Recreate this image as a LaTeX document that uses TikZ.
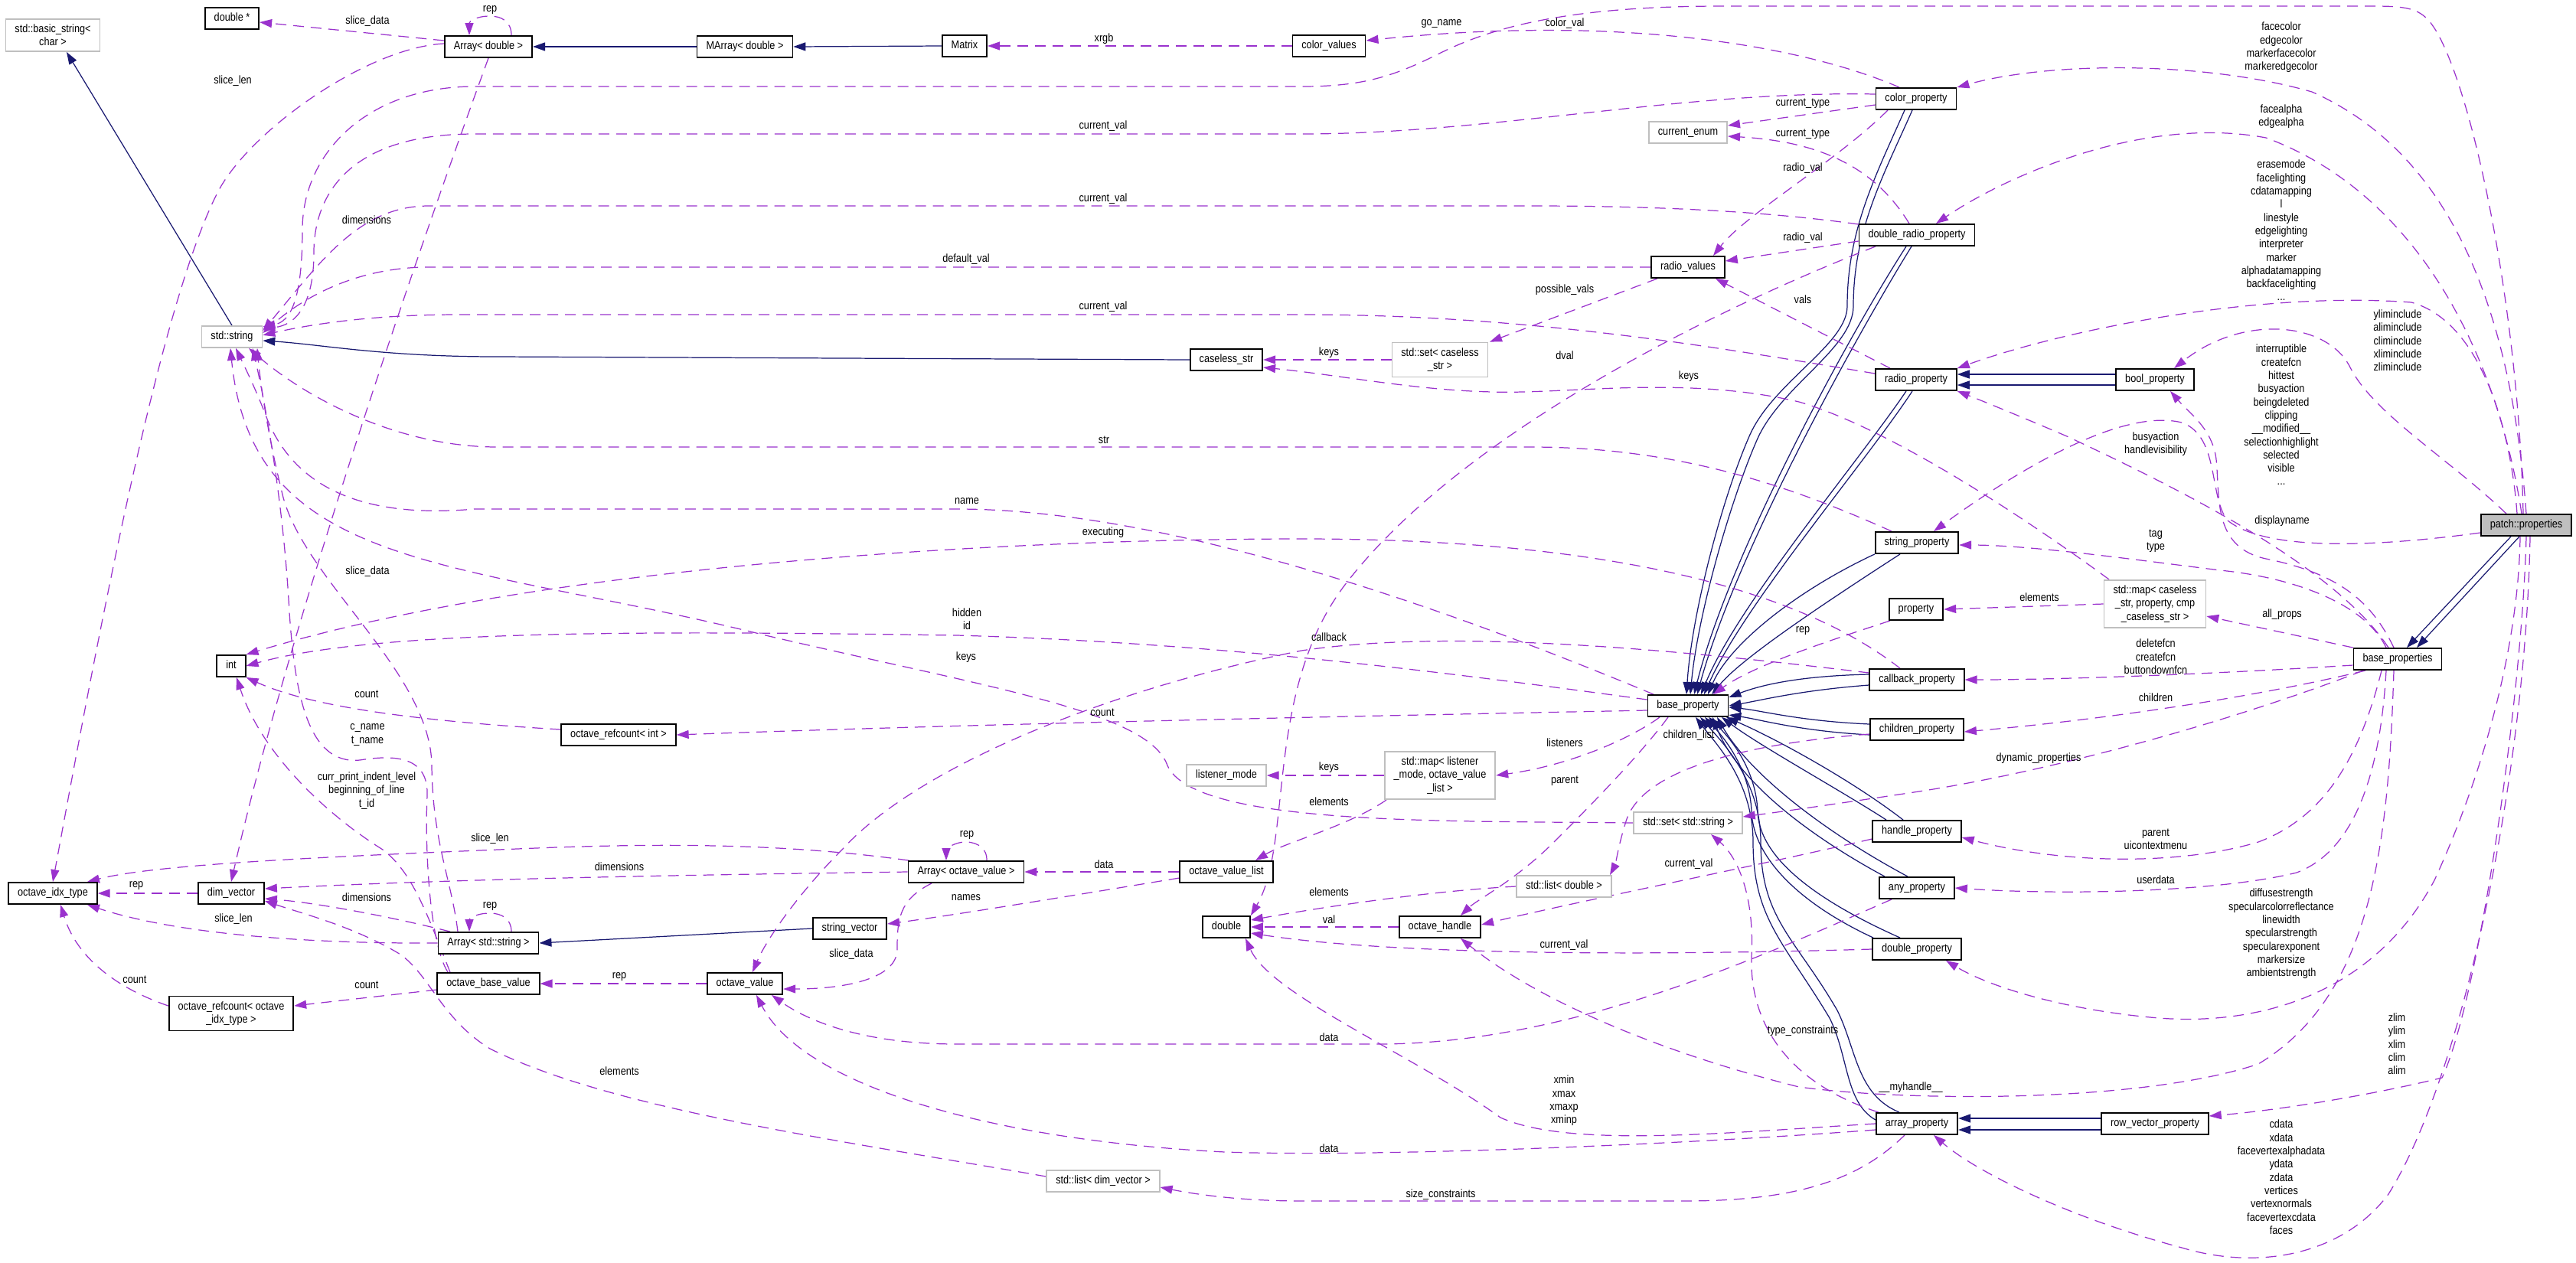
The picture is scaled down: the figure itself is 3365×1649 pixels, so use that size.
\documentclass[tikz,border=0pt]{standalone}
\usepackage{fontspec}
\setmainfont{Liberation Sans}[FakeStretch=0.86]
\usetikzlibrary{arrows.meta}
\definecolor{inhblue}{RGB}{25,25,112}
\definecolor{usepurple}{RGB}{154,50,205}
\definecolor{extgray}{RGB}{191,191,191}
\newcommand{\dfont}{\fontsize{4.2}{4.93}\selectfont}
\pgfdeclarelayer{bg}
\pgfsetlayers{bg,main}
\begin{document}
\begin{tikzpicture}[x=0.1mm,y=-0.1mm,
  box/.style={draw=black,fill=white,line width=0.5pt,font=\dfont,align=center,
    inner xsep=3.4pt,inner ysep=2pt,minimum height=2.8mm},
  one/.style={box,text height=3.1pt,text depth=0.9pt},
  ext/.style={draw=extgray},
  lbl/.style={font=\dfont,align=center,inner sep=0pt},
  inh/.style={draw=inhblue,line width=0.35pt,-{Triangle[length=1.6mm,width=1.1mm]}},
  use/.style={draw=usepurple,line width=0.35pt,dash pattern=on 1.4mm off 0.9mm,
    -{Triangle[length=1.6mm,width=1.1mm]}}]
  \useasboundingbox (0,0) rectangle (3365,1649);
  % classes
  \node[box,ext] (basicstr) at (69,46) {std::basic\_string<\\char >};
  \node[one] (dblptr) at (303,24) {double *};
  \node[one] (arrdbl) at (638,61) {Array< double >};
  \node[one,ext] (stdstr) at (303,440) {std::string};
  \node[one] (marray) at (973,61) {MArray< double >};
  \node[one] (matrix) at (1260,60) {Matrix};
  \node[one] (colvals) at (1736,60) {color\_values};
  \node[one] (caseless) at (1602,470) {caseless\_str};
  \node[one] (colprop) at (2503,129) {color\_property};
  \node[one,ext] (curenum) at (2205,173) {current\_enum};
  \node[one] (dblradio) at (2504,307) {double\_radio\_property};
  \node[one] (radiovals) at (2205,349) {radio\_values};
  \node[box,ext] (setcaseless) at (1881,470) {std::set< caseless\\\_str >};
  \node[one] (radioprop) at (2503,496) {radio\_property};
  \node[one] (boolprop) at (2815,496) {bool\_property};
  \node[one] (strprop) at (2504,709) {string\_property};
  \node[one] (property) at (2503,796) {property};
  \node[one] (cbprop) at (2504,888) {callback\_property};
  \node[one] (baseprop) at (2205,922) {base\_property};
  \node[one] (childprop) at (2504,953) {children\_property};
  \node[box,ext] (maplistener) at (1881,1013) {std::map< listener\\\_mode, octave\_value\\\_list >};
  \node[one,ext] (setstr) at (2205,1075) {std::set< std::string >};
  \node[one] (handleprop) at (2504,1086) {handle\_property};
  \node[one,fill=extgray] (patch) at (3300,686) {patch::properties};
  \node[box,ext] (mapcaseless) at (2815,789) {std::map< caseless\\\_str, property, cmp\\\_caseless\_str >};
  \node[one] (baseprops) at (3132,861) {base\_properties};
  \node[one] (int) at (302,870) {int};
  \node[one] (refint) at (808,960) {octave\_refcount< int >};
  \node[one,ext] (listmode) at (1602,1013) {listener\_mode};
  \node[one] (idxtype) at (69,1167) {octave\_idx\_type};
  \node[one] (dimvec) at (302,1167) {dim\_vector};
  \node[one] (arrstr) at (638,1232) {Array< std::string >};
  \node[one] (basevalue) at (638,1285) {octave\_base\_value};
  \node[box] (refidx) at (302,1324) {octave\_refcount< octave\\\_idx\_type >};
  \node[one] (arrov) at (1262,1139) {Array< octave\_value >};
  \node[one] (ovlist) at (1602,1139) {octave\_value\_list};
  \node[one] (strvec) at (1110,1213) {string\_vector};
  \node[one] (double) at (1602,1211) {double};
  \node[one] (octval) at (973,1285) {octave\_value};
  \node[one,ext] (listdim) at (1441,1543) {std::list< dim\_vector >};
  \node[one,ext] (listdbl) at (2043,1158) {std::list< double >};
  \node[one] (ohandle) at (1881,1211) {octave\_handle};
  \node[one] (anyprop) at (2504,1160) {any\_property};
  \node[one] (dblprop) at (2504,1240) {double\_property};
  \node[one] (arrprop) at (2504,1468) {array\_property};
  \node[one] (rowvec) at (2815,1468) {row\_vector\_property};
  % member labels
  \node[lbl] (lrep1) at (640,13) {rep};
  \node[lbl] (lslicedata1) at (480,28) {slice\_data};
  \node[lbl] (lslicelen1) at (304,106) {slice\_len};
  \node[lbl] (ldims1) at (479,287) {dimensions};
  \node[lbl] (lxrgb) at (1442,51) {xrgb};
  \node[lbl] (lgoname) at (1883,31) {go\_name};
  \node[lbl] (lcolorval) at (2044,31) {color\_val};
  \node[lbl] (lcurval1) at (1441,165) {current\_val};
  \node[lbl] (lcurtype1) at (2355,135) {current\_type};
  \node[lbl] (lcurtype2) at (2355,175) {current\_type};
  \node[lbl] (lradioval1) at (2355,220) {radio\_val};
  \node[lbl] (lcurval2) at (1441,260) {current\_val};
  \node[lbl] (lradioval2) at (2355,311) {radio\_val};
  \node[lbl] (ldefval) at (1262,339) {default\_val};
  \node[lbl] (lposvals) at (2044,379) {possible\_vals};
  \node[lbl] (lvals) at (2355,391) {vals};
  \node[lbl] (lcurval3) at (1441,401) {current\_val};
  \node[lbl] (lkeys1) at (1736,461) {keys};
  \node[lbl] (ldval) at (2044,464) {dval};
  \node[lbl] (lkeys2) at (2206,492) {keys};
  \node[lbl] (lfacecolor) at (2980,62) {facecolor\\edgecolor\\markerfacecolor\\markeredgecolor};
  \node[lbl] (lfacealpha) at (2980,152) {facealpha\\edgealpha};
  \node[lbl] (lerasemode) at (2980,301) {erasemode\\facelighting\\cdatamapping\\l\\linestyle\\edgelighting\\interpreter\\marker\\alphadatamapping\\backfacelighting\\...};
  \node[lbl] (lylim) at (3132,445) {yliminclude\\aliminclude\\climinclude\\xliminclude\\zliminclude};
  \node[lbl] (linterrupt) at (2980,542) {interruptible\\createfcn\\hittest\\busyaction\\beingdeleted\\clipping\\\_\_modified\_\_\\selectionhighlight\\selected\\visible\\...};
  \node[lbl] (lbusy) at (2816,580) {busyaction\\handlevisibility};
  \node[lbl] (ldispname) at (2981,681) {displayname};
  \node[lbl] (ltag) at (2816,707) {tag\\type};
  \node[lbl] (lelems1) at (2664,780) {elements};
  \node[lbl] (lallprops) at (2981,803) {all\_props};
  \node[lbl] (ldelfcn) at (2816,858) {deletefcn\\createfcn\\buttondownfcn};
  \node[lbl] (lchildren) at (2816,911) {children};
  \node[lbl] (ldynprops) at (2663,991) {dynamic\_properties};
  \node[lbl] (lparent1) at (2816,1096) {parent\\uicontextmenu};
  \node[lbl] (luserdata) at (2816,1149) {userdata};
  \node[lbl] (ldiffuse) at (2980,1220) {diffusestrength\\specularcolorreflectance\\linewidth\\specularstrength\\specularexponent\\markersize\\ambientstrength};
  \node[lbl] (lzlim) at (3131,1364) {zlim\\ylim\\xlim\\clim\\alim};
  \node[lbl] (lcdata) at (2980,1538) {cdata\\xdata\\facevertexalphadata\\ydata\\zdata\\vertices\\vertexnormals\\facevertexcdata\\faces};
  \node[lbl] (lmyhandle) at (2496,1421) {\_\_myhandle\_\_};
  \node[lbl] (lstr) at (1442,575) {str};
  \node[lbl] (lname) at (1263,655) {name};
  \node[lbl] (lexec) at (1441,696) {executing};
  \node[lbl] (lslicedata2) at (480,747) {slice\_data};
  \node[lbl] (lhidden) at (1263,809) {hidden\\id};
  \node[lbl] (lrep2) at (2355,824) {rep};
  \node[lbl] (lcallback) at (1736,832) {callback};
  \node[lbl] (lkeys3) at (1262,859) {keys};
  \node[lbl] (lcount1) at (479,907) {count};
  \node[lbl] (lcount2) at (1440,931) {count};
  \node[lbl] (lcname) at (480,960) {c\_name\\t\_name};
  \node[lbl] (lchildlist) at (2206,961) {children\_list};
  \node[lbl] (llisteners) at (2044,970) {listeners};
  \node[lbl] (lkeys4) at (1736,1003) {keys};
  \node[lbl] (lparent2) at (2044,1020) {parent};
  \node[lbl] (lcurprint) at (479,1033) {curr\_print\_indent\_level\\beginning\_of\_line\\t\_id};
  \node[lbl] (lelems2) at (1736,1047) {elements};
  \node[lbl] (lrep3) at (1263,1091) {rep};
  \node[lbl] (lslicelen2) at (640,1096) {slice\_len};
  \node[lbl] (ldata1) at (1442,1129) {data};
  \node[lbl] (lcurval4) at (2206,1129) {current\_val};
  \node[lbl] (ldims2) at (809,1132) {dimensions};
  \node[lbl] (lrep4) at (178,1157) {rep};
  \node[lbl] (lelems3) at (1736,1165) {elements};
  \node[lbl] (ldims3) at (479,1172) {dimensions};
  \node[lbl] (lnames) at (1262,1173) {names};
  \node[lbl] (lrep5) at (640,1184) {rep};
  \node[lbl] (lslicelen3) at (305,1201) {slice\_len};
  \node[lbl] (lval) at (1736,1201) {val};
  \node[lbl] (lcurval5) at (2043,1235) {current\_val};
  \node[lbl] (lslicedata3) at (1112,1247) {slice\_data};
  \node[lbl] (lrep6) at (809,1276) {rep};
  \node[lbl] (lcount3) at (176,1280) {count};
  \node[lbl] (lcount4) at (479,1287) {count};
  \node[lbl] (ltypecons) at (2355,1347) {type\_constraints};
  \node[lbl] (ldata2) at (1736,1355) {data};
  \node[lbl] (lelems4) at (809,1399) {elements};
  \node[lbl] (lxmin) at (2043,1438) {xmin\\xmax\\xmaxp\\xminp};
  \node[lbl] (ldata3) at (1736,1500) {data};
  \node[lbl] (lsizecons) at (1882,1561) {size\_constraints};
  \begin{pgfonlayer}{bg}
  % inheritance
  \draw[inh] (stdstr.north) -- ([shift={(18,0)}]basicstr.south);
  \draw[inh] (marray.west) -- (arrdbl.east);
  \draw[inh] (matrix.west) -- (marray.east);
  \draw[inh] (caseless.west) -- (650,466) .. controls (500,466) and (420,450) .. ([shift={(0,5)}]stdstr.east);
  \draw[inh] (strvec.west) -- (arrstr.east);
  \draw[inh] ([shift={(-20,0)}]patch.south) -- ([shift={(12,0)}]baseprops.north);
  \draw[inh] ([shift={(-9,0)}]patch.south) -- ([shift={(25,0)}]baseprops.north);
  \draw[inh] ([shift={(0,-7)}]boolprop.west) -- ([shift={(0,-7)}]radioprop.east);
  \draw[inh] ([shift={(0,7)}]boolprop.west) -- ([shift={(0,7)}]radioprop.east);
  \draw[inh] ([shift={(0,-7)}]rowvec.west) -- ([shift={(0,-7)}]arrprop.east);
  \draw[inh] ([shift={(0,8)}]rowvec.west) -- ([shift={(0,8)}]arrprop.east);
  \draw[inh] ([shift={(-15,0)}]colprop.south) .. controls (2450,230) and (2413,300) .. (2413,400)
    .. controls (2413,450) and (2315,500) .. (2285,570) .. controls (2250,650) and (2210,800) .. ([shift={(-2,0)}]baseprop.north);
  \draw[inh] ([shift={(-5,0)}]colprop.south) .. controls (2460,230) and (2421,300) .. (2421,400)
    .. controls (2421,455) and (2325,505) .. (2295,575) .. controls (2262,650) and (2218,800) .. ([shift={(3,0)}]baseprop.north);
  \draw[inh] ([shift={(-14,0)}]dblradio.south) .. controls (2420,430) and (2260,720) .. ([shift={(8,0)}]baseprop.north);
  \draw[inh] ([shift={(-7,0)}]dblradio.south) .. controls (2430,430) and (2268,720) .. ([shift={(12,0)}]baseprop.north);
  \draw[inh] ([shift={(-13,0)}]radioprop.south) .. controls (2430,600) and (2270,790) .. ([shift={(17,0)}]baseprop.north);
  \draw[inh] ([shift={(-5,0)}]radioprop.south) .. controls (2440,600) and (2278,790) .. ([shift={(21,0)}]baseprop.north);
  \draw[inh] (strprop.south west) .. controls (2350,770) and (2260,840) .. ([shift={(26,0)}]baseprop.north);
  \draw[inh] ([shift={(-22,0)}]strprop.south) .. controls (2380,790) and (2275,860) .. ([shift={(31,0)}]baseprop.north);
  \draw[inh] ([shift={(0,-7)}]cbprop.west) .. controls (2350,883) and (2300,895) .. ([shift={(0,-11)}]baseprop.east);
  \draw[inh] ([shift={(0,7)}]cbprop.west) .. controls (2350,902) and (2300,915) .. (baseprop.east);
  \draw[inh] ([shift={(0,-7)}]childprop.west) .. controls (2350,942) and (2300,928) .. ([shift={(0,2)}]baseprop.east);
  \draw[inh] ([shift={(0,7)}]childprop.west) .. controls (2350,955) and (2300,940) .. ([shift={(0,12)}]baseprop.east);
  \draw[inh] ([shift={(-40,0)}]handleprop.north) .. controls (2400,1030) and (2300,975) .. ([shift={(44,0)}]baseprop.south);
  \draw[inh] ([shift={(-18,0)}]handleprop.north) .. controls (2420,1020) and (2320,965) .. ([shift={(50,0)}]baseprop.south);
  \draw[inh] ([shift={(-42,0)}]anyprop.north) .. controls (2360,1090) and (2270,1020) .. ([shift={(32,0)}]baseprop.south);
  \draw[inh] ([shift={(-12,0)}]anyprop.north) .. controls (2380,1085) and (2285,1010) .. ([shift={(38,0)}]baseprop.south);
  \draw[inh] ([shift={(-57,0)}]dblprop.north) .. controls (2350,1180) and (2290,1120) .. (2288,1060)
    .. controls (2286,1010) and (2258,970) .. ([shift={(22,0)}]baseprop.south);
  \draw[inh] ([shift={(-22,0)}]dblprop.north) .. controls (2370,1175) and (2298,1120) .. (2296,1060)
    .. controls (2294,1010) and (2266,970) .. ([shift={(27,0)}]baseprop.south);
  \draw[inh] ([shift={(0,-5)}]arrprop.west) .. controls (2410,1440) and (2415,1380) .. (2390,1330)
    .. controls (2330,1230) and (2290,1200) .. (2290,1100) .. controls (2290,1020) and (2240,970) .. ([shift={(10,0)}]baseprop.south);
  \draw[inh] ([shift={(-23,0)}]arrprop.north) .. controls (2425,1430) and (2425,1370) .. (2400,1320)
    .. controls (2345,1225) and (2300,1200) .. (2300,1100) .. controls (2300,1020) and (2250,970) .. ([shift={(16,0)}]baseprop.south);
  % members
  \draw[use] ([shift={(30,0)}]arrdbl.north) .. controls (668,28) and (655,21) .. (640,21) .. controls (622,21) and (613,28) .. ([shift={(-25,0)}]arrdbl.north);
  \draw[use] ([shift={(0,-8)}]arrdbl.west) -- ([shift={(0,5)}]dblptr.east);
  \draw[use] ([shift={(0,-4)}]arrdbl.west) .. controls (480,62) and (327,170) .. (285,250) .. controls (207,400) and (124,853) .. (idxtype.north);
  \draw[use] (arrdbl.south) .. controls (520,400) and (370,850) .. (dimvec.north);
  \draw[use] (colvals.west) -- (matrix.east);
  \draw[use] ([shift={(-22,0)}]colprop.north) .. controls (2380,70) and (2150,15) .. ([shift={(0,-7)}]colvals.east);
  \draw[use] ([shift={(-4,0)}]patch.north) .. controls (3290,400) and (3230,120) .. (3182,40) .. controls (3165,12) and (3150,8) .. (3100,8)
    -- (2250,8) .. controls (2050,8) and (1950,35) .. (1880,70) .. controls (1820,100) and (1780,113) .. (1700,113)
    -- (620,113) .. controls (480,113) and (395,200) .. (395,300) .. controls (395,390) and (380,420) .. (stdstr.18);
  \draw[use] ([shift={(0,-6)}]colprop.west) .. controls (2200,118) and (1950,175) .. (1700,175)
    -- (620,175) .. controls (450,175) and (410,260) .. (410,330) .. controls (410,400) and (385,425) .. (stdstr.15);
  \draw[use] ([shift={(0,8)}]colprop.west) -- ([shift={(0,-9)}]curenum.east);
  \draw[use] ([shift={(-10,0)}]dblradio.north) .. controls (2450,220) and (2380,185) .. ([shift={(0,5)}]curenum.east);
  \draw[use] ([shift={(-37,0)}]colprop.south) .. controls (2400,210) and (2280,280) .. ([shift={(33,0)}]radiovals.north);
  \draw[use] ([shift={(0,8)}]dblradio.west) -- ([shift={(0,-8)}]radiovals.east);
  \draw[use] ([shift={(0,-14)}]dblradio.west) .. controls (2300,275) and (2150,269) .. (2000,269)
    -- (560,269) .. controls (470,269) and (420,340) .. (stdstr.11);
  \draw[use] (radiovals.west) -- (560,349) .. controls (470,349) and (400,385) .. (stdstr.7);
  \draw[use] ([shift={(0,-8)}]radioprop.west) .. controls (2250,455) and (2000,411) .. (1700,411)
    -- (600,411) .. controls (480,411) and (400,425) .. (stdstr.3);
  \draw[use] ([shift={(-40,0)}]radiovals.south) -- ([shift={(65,0)}]setcaseless.north);
  \draw[use] ([shift={(-34,0)}]radioprop.north) -- ([shift={(36,0)}]radiovals.south);
  \draw[use] (setcaseless.west) -- (caseless.east);
  \draw[use] ([shift={(-60,0)}]mapcaseless.north) .. controls (2650,680) and (2470,560) .. (2350,525)
    .. controls (2200,490) and (2050,515) .. (1950,512) .. controls (1850,510) and (1750,490) .. ([shift={(0,10)}]caseless.east);
  \draw[use] ([shift={(-54,0)}]dblradio.south) .. controls (2200,420) and (1900,580) .. (1760,760)
    .. controls (1650,900) and (1690,1100) .. (double.north east);
  \draw[use] ([shift={(-33,0)}]strprop.north) .. controls (2350,640) and (2200,584) .. (2000,584)
    -- (650,584) .. controls (520,584) and (400,520) .. ([shift={(22,0)}]stdstr.south);
  \draw[use] ([shift={(-45,0)}]baseprop.north) .. controls (1950,820) and (1550,665) .. (1250,665)
    -- (620,665) .. controls (450,680) and (380,620) .. (350,550) .. controls (335,510) and (320,480) .. ([shift={(5,0)}]stdstr.south);
  \draw[use] ([shift={(-22,0)}]cbprop.north) .. controls (2350,770) and (2100,704) .. (1700,704)
    .. controls (1300,704) and (700,740) .. (int.north east);
  \draw[use] ([shift={(0,-8)}]baseprop.west) .. controls (1900,880) and (1600,840) .. (1250,830)
    .. controls (900,825) and (500,820) .. (int.east);
  \draw[use] (setstr.west) .. controls (1900,1072) and (1560,1080) .. (1525,1000)
    .. controls (1500,930) and (1300,900) .. (1000,830) .. controls (600,730) and (330,750) .. ([shift={(-2,0)}]stdstr.south);
  \draw[use] ([shift={(0,-7)}]refint.west) .. controls (600,945) and (420,930) .. (int.south east);
  \draw[use] ([shift={(-53,0)}]basevalue.north) .. controls (560,1230) and (555,1100) .. (558,1040)
    .. controls (560,990) and (520,985) .. (470,993) .. controls (400,1000) and (385,900) .. (378,800)
    .. controls (370,650) and (345,520) .. ([shift={(27,0)}]stdstr.south);
  \draw[use] ([shift={(-50,0)}]basevalue.north) .. controls (560,1200) and (540,1140) .. (500,1110)
    .. controls (420,1060) and (340,980) .. ([shift={(7,0)}]int.south);
  \draw[use] ([shift={(-40,0)}]arrstr.north) .. controls (590,1150) and (565,1100) .. (564,1000)
    .. controls (563,880) and (400,760) .. (370,650) .. controls (350,570) and (340,500) .. ([shift={(33,0)}]stdstr.south);
  \draw[use] ([shift={(30,0)}]arrstr.north) .. controls (668,1200) and (655,1193) .. (640,1193) .. controls (622,1193) and (613,1200) .. ([shift={(-25,0)}]arrstr.north);
  \draw[use] (arrstr.west) .. controls (400,1233) and (230,1220) .. ([shift={(45,0)}]idxtype.south);
  \draw[use] ([shift={(-50,0)}]arrstr.north) .. controls (520,1200) and (420,1180) .. ([shift={(0,7)}]dimvec.east);
  \draw[use] (dimvec.west) -- (idxtype.east);
  \draw[use] ([shift={(0,-10)}]refidx.west) .. controls (150,1290) and (100,1250) .. ([shift={(10,0)}]idxtype.south);
  \draw[use] ([shift={(0,8)}]basevalue.west) -- ([shift={(0,-10)}]refidx.east);
  \draw[use] ([shift={(-75,0)}]arrov.north) .. controls (1050,1105) and (900,1100) .. (700,1108)
    .. controls (400,1120) and (200,1130) .. ([shift={(45,0)}]idxtype.north);
  \draw[use] (arrov.west) .. controls (900,1143) and (600,1148) .. ([shift={(0,-6)}]dimvec.east);
  \draw[use] ([shift={(27,0)}]arrov.north) .. controls (1290,1110) and (1278,1100) .. (1262,1100) .. controls (1245,1100) and (1236,1110) .. ([shift={(-26,0)}]arrov.north);
  \draw[use] (ovlist.west) -- (arrov.east);
  \draw[use] ([shift={(0,8)}]ovlist.west) .. controls (1400,1170) and (1250,1195) .. ([shift={(0,-6)}]strvec.east);
  \draw[use] ([shift={(-45,0)}]arrov.south) .. controls (1175,1175) and (1172,1200) .. (1172,1240)
    .. controls (1172,1280) and (1100,1292) .. ([shift={(0,7)}]octval.east);
  \draw[use] (octval.west) -- (basevalue.east);
  \draw[use] ([shift={(-70,0)}]maplistener.south) .. controls (1760,1080) and (1680,1100) .. ([shift={(38,0)}]ovlist.north);
  \draw[use] (maplistener.west) -- (listmode.east);
  \draw[use] ([shift={(-37,0)}]baseprop.south) .. controls (2130,965) and (2050,1000) .. (maplistener.east);
  \draw[use] ([shift={(0,-9)}]cbprop.west) .. controls (2200,850) and (1900,820) .. (1700,850)
    .. controls (1450,900) and (1200,1000) .. (1100,1110) .. controls (1040,1170) and (1000,1230) .. ([shift={(10,0)}]octval.north);
  \draw[use] ([shift={(0,6)}]baseprop.west) .. controls (1800,935) and (1300,945) .. (refint.east);
  \draw[use] ([shift={(0,10)}]handleprop.west) .. controls (2300,1130) and (2050,1180) .. ([shift={(0,-3)}]ohandle.east);
  \draw[use] ([shift={(-26,0)}]baseprop.south) .. controls (2140,990) and (2060,1070) .. (2030,1100)
    .. controls (1980,1150) and (1930,1175) .. ([shift={(27,0)}]ohandle.north);
  \draw[use] ([shift={(0,6)}]childprop.west) .. controls (2300,970) and (2150,1000) .. (2125,1070)
    .. controls (2115,1100) and (2110,1130) .. ([shift={(60,0)}]listdbl.north);
  \draw[use] ([shift={(-45,0)}]baseprops.south) .. controls (2950,930) and (2700,1005) .. (2500,1035)
    .. controls (2400,1050) and (2330,1060) .. ([shift={(0,-8)}]setstr.east);
  \draw[use] ([shift={(-50,0)}]arrprop.north) .. controls (2350,1420) and (2285,1350) .. (2288,1250)
    .. controls (2292,1170) and (2270,1120) .. ([shift={(30,0)}]setstr.south);
  \draw[use] (listdbl.west) .. controls (1850,1165) and (1700,1190) .. ([shift={(0,-9)}]double.east);
  \draw[use] (ohandle.west) -- (double.east);
  \draw[use] (dblprop.west) .. controls (2100,1250) and (1800,1245) .. ([shift={(0,8)}]double.east);
  \draw[use] (arrprop.west) .. controls (2250,1480) and (2050,1500) .. (1960,1460)
    .. controls (1850,1380) and (1660,1300) .. ([shift={(25,0)}]double.south);
  \draw[use] ([shift={(-33,0)}]anyprop.south) .. controls (2300,1250) and (2050,1364) .. (1800,1364)
    -- (1250,1364) .. controls (1120,1364) and (1050,1330) .. ([shift={(35,0)}]octval.south);
  \draw[use] ([shift={(0,8)}]arrprop.west) .. controls (2200,1495) and (1800,1512) .. (1600,1505)
    .. controls (1300,1490) and (1050,1420) .. ([shift={(15,0)}]octval.south);
  \draw[use] ([shift={(-16,0)}]arrprop.south) .. controls (2430,1540) and (2350,1569) .. (2200,1569)
    -- (1700,1569) .. controls (1620,1569) and (1560,1560) .. ([shift={(0,8)}]listdim.east);
  \draw[use] ([shift={(0,-6)}]listdim.west) .. controls (1100,1490) and (800,1450) .. (640,1370)
    .. controls (575,1330) and (560,1270) .. (520,1245) .. controls (460,1210) and (400,1195) .. ([shift={(0,10)}]dimvec.east);
  \draw[use] ([shift={(-5,0)}]baseprops.south) .. controls (3120,1100) and (3100,1300) .. (2950,1390)
    .. controls (2800,1440) and (2500,1440) .. (2350,1420) .. controls (2150,1370) and (2000,1300) .. ([shift={(27,0)}]ohandle.south);
  \draw[use] ([shift={(-21,0)}]baseprops.south) .. controls (3080,1000) and (3030,1070) .. (2950,1100)
    .. controls (2850,1130) and (2700,1130) .. ([shift={(0,8)}]handleprop.east);
  \draw[use] ([shift={(-15,0)}]baseprops.south) .. controls (3110,1000) and (3080,1110) .. (3000,1140)
    .. controls (2900,1165) and (2700,1170) .. (anyprop.east);
  \draw[use] ([shift={(-8,0)}]patch.south) .. controls (3290,850) and (3240,1020) .. (3180,1150)
    .. controls (3100,1300) and (2950,1340) .. (2820,1330) .. controls (2700,1320) and (2600,1290) .. ([shift={(38,0)}]dblprop.south);
  \draw[use] (patch.south) .. controls (3295,900) and (3240,1300) .. (3190,1408)
    .. controls (3100,1430) and (2980,1450) .. ([shift={(0,-10)}]rowvec.east);
  \draw[use] ([shift={(5,0)}]patch.south) .. controls (3300,1000) and (3220,1400) .. (3120,1560)
    .. controls (3060,1640) and (2950,1660) .. (2850,1630) .. controls (2700,1590) and (2580,1530) .. ([shift={(22,0)}]arrprop.south);
  \draw[use] ([shift={(-42,0)}]baseprops.south) .. controls (2950,910) and (2750,940) .. ([shift={(0,3)}]childprop.east);
  \draw[use] ([shift={(0,8)}]baseprops.west) .. controls (2900,880) and (2700,888) .. (cbprop.east);
  \draw[use] (baseprops.north west) -- ([shift={(0,16)}]mapcaseless.east);
  \draw[use] (mapcaseless.west) -- (property.east);
  \draw[use] ([shift={(-34,0)}]property.south) .. controls (2380,840) and (2290,870) .. ([shift={(33,0)}]baseprop.north);
  \draw[use] ([shift={(-15,0)}]baseprops.north) .. controls (3090,790) and (3000,755) .. (2900,745)
    .. controls (2780,730) and (2650,712) .. ([shift={(0,3)}]strprop.east);
  \draw[use] ([shift={(0,10)}]patch.west) .. controls (3100,715) and (2960,720) .. (2910,680)
    .. controls (2885,650) and (2900,570) .. (2850,552) .. controls (2760,530) and (2600,640) .. ([shift={(22,0)}]strprop.north);
  \draw[use] ([shift={(-12,0)}]baseprops.north) .. controls (3050,740) and (2850,640) .. (2700,570)
    .. controls (2630,540) and (2580,520) .. (radioprop.south east);
  \draw[use] ([shift={(-5,0)}]baseprops.north) .. controls (3100,790) and (3060,750) .. (2960,730)
    .. controls (2890,715) and (2900,650) .. (2895,600) .. controls (2890,560) and (2860,540) .. ([shift={(20,0)}]boolprop.south);
  \draw[use] ([shift={(-26,0)}]patch.north) .. controls (3200,600) and (3100,540) .. (3070,480)
    .. controls (3040,420) and (2930,410) .. ([shift={(25,0)}]boolprop.north);
  \draw[use] ([shift={(-12,0)}]patch.north) .. controls (3280,560) and (3240,420) .. (3150,395)
    .. controls (2950,380) and (2700,430) .. (radioprop.north east);
  \draw[use] ([shift={(-6,0)}]patch.north) .. controls (3260,450) and (3150,250) .. (2960,180)
    .. controls (2800,150) and (2620,230) .. ([shift={(25,0)}]dblradio.north);
  \draw[use] (patch.north) .. controls (3280,400) and (3200,200) .. (3020,120)
    .. controls (2880,80) and (2680,80) .. (colprop.north east);
  \end{pgfonlayer}
\end{tikzpicture}
\end{document}
